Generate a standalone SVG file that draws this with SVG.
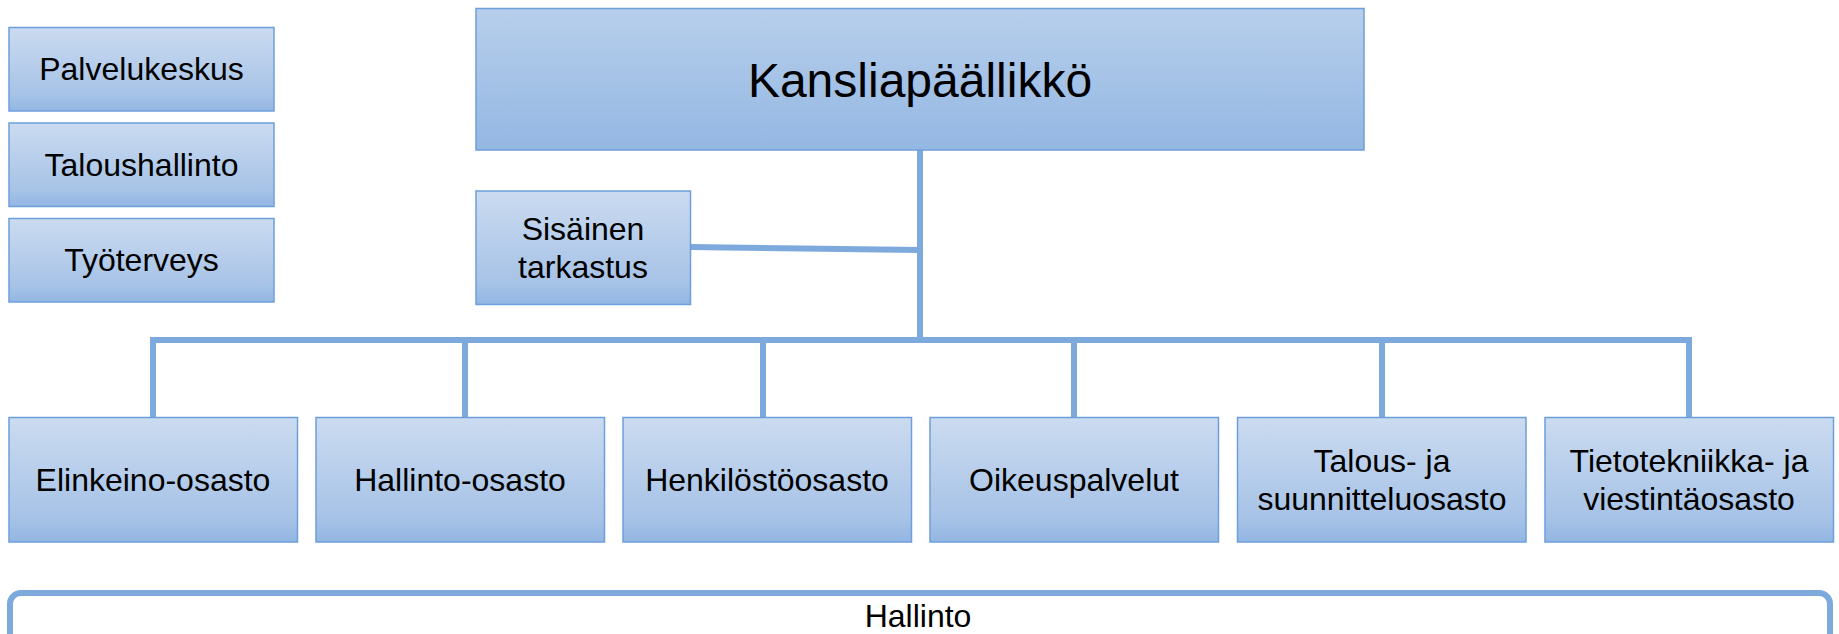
<svg xmlns="http://www.w3.org/2000/svg" width="1839" height="634" viewBox="0 0 1839 634">
<defs>
<linearGradient id="g" x1="0" y1="0" x2="0" y2="1">
<stop offset="0" stop-color="#CBDBF0"/>
<stop offset="0.8" stop-color="#A7C3E7"/>
<stop offset="1" stop-color="#93B6E3"/>
</linearGradient>
<linearGradient id="gk" x1="0" y1="0" x2="0" y2="1">
<stop offset="0" stop-color="#B7CFEB"/>
<stop offset="1" stop-color="#94B7E3"/>
</linearGradient>
</defs>
<style>
.box{fill:url(#g);stroke:#6E9FDA;stroke-width:1.5}
.t{font-family:"Liberation Sans",Arial,sans-serif;font-size:32px;fill:#000;text-anchor:middle}
.c{stroke:#7DA9DD;stroke-width:6;fill:none}
</style>
<rect width="1839" height="634" fill="#fff"/>
<g id="connectors">
<path class="c" d="M920 150 V340"/>
<path class="c" d="M690 247 L920 250"/>
<path class="c" d="M153 417 V340 H1689 V417"/>
<path class="c" d="M465 340 V417 M763 340 V417 M1074 340 V417 M1382 340 V417"/>
</g>
<g id="n-kansliapaallikko">
<rect x="476" y="8.5" width="888" height="141.5" fill="url(#gk)" stroke="#6E9FDA" stroke-width="1.5"/>
<text class="t" x="920" y="97" style="font-size:48px">Kansliapäällikkö</text>
</g>
<g id="n-palvelukeskus">
<rect class="box" x="9" y="27.5" width="265" height="83.5"/>
<text class="t" x="141.5" y="80">Palvelukeskus</text>
</g>
<g id="n-taloushallinto">
<rect class="box" x="9" y="123" width="265" height="83.5"/>
<text class="t" x="141.5" y="176">Taloushallinto</text>
</g>
<g id="n-tyoterveys">
<rect class="box" x="9" y="218.5" width="265" height="83.5"/>
<text class="t" x="141.5" y="271">Työterveys</text>
</g>
<g id="n-sisainen">
<rect class="box" x="476" y="191" width="214.5" height="113.5"/>
<text class="t" x="583" y="240">Sisäinen</text>
<text class="t" x="583" y="278">tarkastus</text>
</g>
<g id="n-elinkeino">
<rect class="box" x="9" y="417.5" width="288.5" height="124.5"/>
<text class="t" x="153" y="491">Elinkeino-osasto</text>
</g>
<g id="n-hallinto-osasto">
<rect class="box" x="316" y="417.5" width="288.5" height="124.5"/>
<text class="t" x="460" y="491">Hallinto-osasto</text>
</g>
<g id="n-henkilosto">
<rect class="box" x="623" y="417.5" width="288.5" height="124.5"/>
<text class="t" x="767" y="491">Henkilöstöosasto</text>
</g>
<g id="n-oikeus">
<rect class="box" x="930" y="417.5" width="288.5" height="124.5"/>
<text class="t" x="1074" y="491">Oikeuspalvelut</text>
</g>
<g id="n-talous">
<rect class="box" x="1237.5" y="417.5" width="288.5" height="124.5"/>
<text class="t" x="1382" y="472">Talous- ja</text>
<text class="t" x="1382" y="510">suunnitteluosasto</text>
</g>
<g id="n-tieto">
<rect class="box" x="1545" y="417.5" width="288.5" height="124.5"/>
<text class="t" x="1689" y="472">Tietotekniikka- ja</text>
<text class="t" x="1689" y="510">viestintäosasto</text>
</g>
<g id="n-hallinto">
<rect x="10" y="593" width="1820" height="60" rx="11" ry="11" fill="#fff" stroke="#7DA9DD" stroke-width="6"/>
<text class="t" x="918" y="627">Hallinto</text>
</g>
</svg>
